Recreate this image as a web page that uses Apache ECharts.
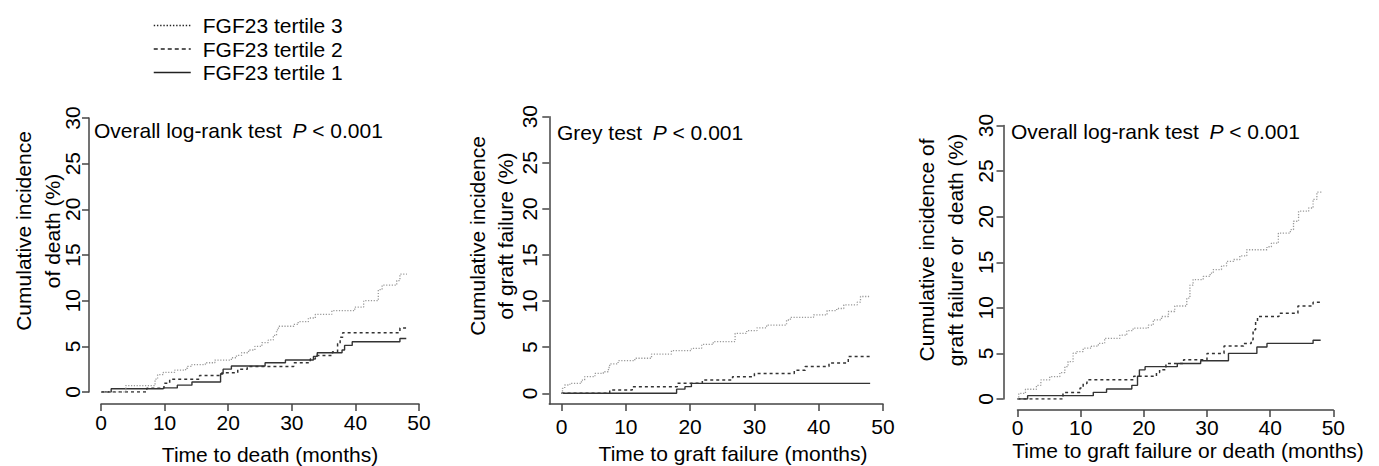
<!DOCTYPE html>
<html>
<head>
<meta charset="utf-8">
<script src="https://cdn.jsdelivr.net/npm/echarts@6/dist/echarts.min.js"></script>
<style>
html,body{margin:0;padding:0;background:#fff;}
#c{width:1379px;height:466px;}
</style>
</head>
<body>
<div id="c"></div>
<script>
// ---- data (months, cumulative incidence %) ----
const seriesNames = ['FGF23 tertile 3', 'FGF23 tertile 2', 'FGF23 tertile 1'];
const xTicks = [0, 10, 20, 30, 40, 50];
const yTicks = [0, 5, 10, 15, 20, 25, 30];

// Panel 1: death
const deathT3 = [[0,0],[3.9,0.7],[8.5,1.4],[8.9,1.9],[9.8,2.15],[11.6,2.4],[13.3,2.6],[13.6,2.8],[14.3,3.0],[16.4,3.2],[17.9,3.5],[20.5,3.75],[21.3,4.0],[22.1,4.3],[23.2,4.6],[24.2,5.0],[25.3,5.4],[26.3,5.7],[27.1,6.2],[27.6,6.8],[27.9,7.2],[30.3,7.4],[31.0,7.7],[32.6,8.1],[33.7,8.5],[36.3,8.9],[39.9,9.3],[41.3,10.0],[43.6,11.2],[44.2,11.7],[46.5,12.2],[47.0,12.9],[48.1,12.9]];
const deathT2 = [[0,0],[7.2,0.4],[9.9,0.95],[10.8,1.4],[15.5,1.8],[19.0,2.1],[21.5,2.5],[23.0,2.8],[30.3,3.2],[32.9,3.6],[33.7,4.0],[36.4,4.4],[37.2,5.3],[37.6,6.0],[38.0,6.5],[47.0,7.0],[48.0,7.0]];
const deathT1 = [[0,0],[1.6,0.35],[9.8,0.45],[12.0,0.75],[14.3,1.1],[18.8,2.0],[19.2,2.5],[20.5,2.85],[25.8,3.2],[29.0,3.5],[33.4,3.9],[34.0,4.3],[37.9,4.6],[38.3,5.1],[39.5,5.5],[47.0,5.85],[48.0,5.85]];

// Panel 2: graft failure
const graftT3 = [[0,0],[0.15,0.54],[0.5,0.9],[1.3,1.08],[3.1,1.44],[3.6,1.8],[5.2,2.16],[6.5,2.34],[7.3,2.8],[7.5,3.2],[8.8,3.54],[11.4,3.8],[14.0,4.26],[17.1,4.62],[20.2,4.88],[21.8,5.3],[23.6,5.6],[27.0,6.5],[28.8,6.8],[30.4,7.1],[31.9,7.4],[35.0,7.95],[35.6,8.24],[39.2,8.5],[41.3,8.97],[42.8,9.2],[43.9,9.6],[46.0,9.9],[46.5,10.5],[48.0,10.5]];
const graftT2 = [[0,0],[7.5,0.36],[11.0,0.72],[18.0,1.08],[21.9,1.44],[26.6,1.8],[30.0,2.16],[36.2,2.5],[37.9,2.9],[41.6,3.3],[44.6,4.0],[48.0,4.0]];
const graftT1 = [[0,0],[17.9,0.45],[19.2,0.72],[20.2,1.08],[48.0,1.08]];

// Panel 3: graft failure or death
const compT3 = [[0,0],[0.2,0.62],[1.26,1.07],[3.0,1.5],[3.7,2.09],[5.1,2.45],[6.7,2.9],[7.5,3.55],[8.0,4.1],[8.8,5.02],[9.3,5.2],[10.4,5.57],[11.7,5.8],[12.8,6.1],[13.8,6.66],[16.2,7.0],[17.3,7.5],[18.3,7.77],[20.7,8.1],[21.5,8.68],[22.8,9.05],[23.9,9.6],[24.9,10.2],[26.8,11.07],[27.3,12.5],[27.8,13.1],[29.4,13.44],[30.5,13.8],[31.0,14.2],[32.3,14.6],[33.1,15.1],[34.2,15.3],[35.2,15.7],[36.3,16.37],[39.5,16.7],[40.2,17.1],[41.3,18.2],[43.2,18.57],[43.7,19.5],[44.5,20.6],[46.1,20.95],[46.8,21.9],[47.4,22.7],[48.2,22.7]];
const compT2 = [[0,0],[7.2,0.7],[9.9,1.2],[10.4,1.7],[11.0,2.1],[18.4,2.5],[22.0,2.9],[22.5,3.2],[23.5,3.9],[26.3,4.3],[30.0,5.0],[32.7,5.8],[35.8,6.1],[37.0,6.5],[37.3,7.6],[37.7,8.5],[38.0,9.05],[41.4,9.4],[44.4,10.2],[46.8,10.6],[48.0,10.6]];
const compT1 = [[0,0],[1.6,0.37],[12.0,0.73],[14.1,1.1],[18.1,1.5],[19.0,2.5],[19.3,3.2],[20.2,3.55],[25.3,3.9],[29.0,4.2],[33.4,5.0],[37.9,5.7],[39.5,6.1],[46.8,6.45],[48.0,6.45]];

const panelData = [[deathT3, deathT2, deathT1],[graftT3, graftT2, graftT1],[compT3, compT2, compT1]];
const annotations = ['Overall log-rank test\u2002', 'Grey test\u2002', 'Overall log-rank test\u2002'];
const xTitles = ['Time to death (months)', 'Time to graft failure (months)', 'Time to graft failure or death (months)'];
const yTitles = [['Cumulative incidence', 'of death (%)'], ['Cumulative incidence', 'of graft failure (%)'], ['Cumulative incidence of', 'graft failure or  death (%)']];

// ---- layout ----
const FONT = '"Liberation Sans", Arial, Helvetica, sans-serif';
const TXT = '#000';
const AX = '#444';
const panels = [
  {grid:{left:101, top:118, width:318, height:274}, xMin:0, yMin:0, xOff:12, yOff:12, xm:8, ym:6.5,
   ann:{x:94, y:130}, xt:{x:270, y:454}, yt:[{x:23,y:231},{x:52,y:231}]},
  {grid:{left:549.3, top:116.7, width:333.7, height:287.3}, xMin:-1.9, yMin:-1.16, xOff:0, yOff:0, xm:12, ym:9,
   ann:{x:557, y:132}, xt:{x:733, y:453}, yt:[{x:477,y:236},{x:505,y:236}]},
  {grid:{left:1017.5, top:125.5, width:315.8, height:273.5}, xMin:0, yMin:0, xOff:11, yOff:14, xm:7, ym:8,
   ann:{x:1011, y:131}, xt:{x:1188, y:450}, yt:[{x:926,y:250},{x:955,y:250}]}
];

const styles = [
  {color:'#999999', type:[1.2,1.6], width:1.3},
  {color:'#333333', type:[3,3], width:1.5},
  {color:'#333333', type:'solid', width:1.4}
];

const grids = [], xAxes = [], yAxes = [], series = [], graphics = [];
panels.forEach((p, i) => {
  grids.push(Object.assign({containLabel:false}, p.grid));
  xAxes.push({
    type:'value', gridIndex:i, min:p.xMin, max:50, offset:p.xOff,
    axisLine:{show:true, onZero:false, lineStyle:{color:AX, width:1.5}},
    axisTick:{show:true, length:7, lineStyle:{color:AX, width:1.5}, customValues:xTicks},
    axisLabel:{fontSize:21, color:TXT, fontFamily:FONT, margin:p.xm, customValues:xTicks},
    splitLine:{show:false}
  });
  yAxes.push({
    type:'value', gridIndex:i, min:p.yMin, max:30, offset:p.yOff,
    axisLine:{show:true, onZero:false, lineStyle:{color:AX, width:1.5}},
    axisTick:{show:true, length:7, lineStyle:{color:AX, width:1.5}, customValues:yTicks},
    axisLabel:{fontSize:21, color:TXT, fontFamily:FONT, margin:p.ym, rotate:90, customValues:yTicks},
    splitLine:{show:false}
  });
  panelData[i].forEach((d, k) => {
    series.push({
      name:seriesNames[k], type:'line', step:'end', xAxisIndex:i, yAxisIndex:i,
      data:d, symbol:'none', showSymbol:false, animation:false, z:3-k,
      lineStyle:Object.assign({}, styles[k]), itemStyle:{color:styles[k].color}
    });
  });
  graphics.push({
    type:'text', x:p.ann.x, y:p.ann.y,
    style:{
      text:'{n|' + annotations[i] + '}{i|P}{n| < 0.001}',
      verticalAlign:'middle', align:'left',
      rich:{
        n:{fontSize:21, fontFamily:FONT, fill:TXT},
        i:{fontSize:21, fontFamily:FONT, fill:TXT, fontStyle:'italic'}
      }
    }
  });
  graphics.push({
    type:'text', x:p.xt.x, y:p.xt.y,
    style:{text:xTitles[i], fontSize:21, fontFamily:FONT, fill:TXT, align:'center', verticalAlign:'middle'}
  });
  yTitles[i].forEach((t, j) => {
    graphics.push({
      type:'text', x:p.yt[j].x, y:p.yt[j].y, rotation:Math.PI/2,
      style:{text:t, fontSize:21, fontFamily:FONT, fill:TXT, align:'center', verticalAlign:'middle'}
    });
  });
});

const chart = echarts.init(document.getElementById('c'), null, {renderer:'svg'});
chart.setOption({
  animation:false,
  backgroundColor:'#fff',
  textStyle:{fontFamily:FONT},
  legend:{
    orient:'vertical', left:148, top:10, itemWidth:37, itemHeight:14, itemGap:2.5,
    textStyle:{fontSize:21, color:TXT, fontFamily:FONT, lineHeight:21, padding:[0,0,0,7]},
    data:[
      {name:seriesNames[0], itemStyle:{opacity:0}, lineStyle:{color:'#222', type:[1.4,1.8], width:1.5}},
      {name:seriesNames[1], itemStyle:{opacity:0}, lineStyle:{color:'#222', type:[4,3], width:1.4}},
      {name:seriesNames[2], itemStyle:{opacity:0}, lineStyle:{color:'#222', type:'solid', width:1.4}}
    ]
  },
  grid:grids, xAxis:xAxes, yAxis:yAxes, series:series, graphic:graphics
});
</script>
</body>
</html>
